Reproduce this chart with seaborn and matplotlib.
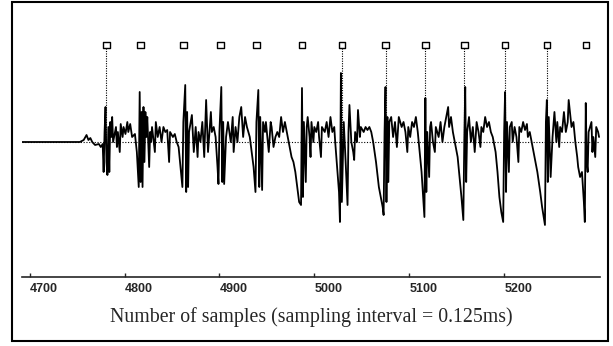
import matplotlib
matplotlib.use("Agg")
import matplotlib.pyplot as plt
from matplotlib.patches import Rectangle
import seaborn as sns
import pandas as pd

# waveform vertices (sample number, amplitude)
sample = [4692, 4753, 4757, 4760, 4762, 4764, 4766, 4769, 4773, 4775, 4777, 4778, 4779, 4780, 4781, 4782,
          4783, 4784, 4785, 4786, 4787, 4788, 4791, 4792, 4793, 4795, 4796, 4798, 4799, 4801, 4803, 4804,
          4806, 4808, 4811, 4813, 4815, 4816, 4817, 4818, 4819, 4820, 4821, 4822, 4823, 4824, 4826, 4827,
          4828, 4829, 4832, 4833, 4835, 4837, 4839, 4841, 4843, 4845, 4847, 4848, 4851, 4853, 4855, 4857,
          4859, 4861, 4862, 4864, 4865, 4866, 4867, 4868, 4871, 4873, 4875, 4877, 4878, 4880, 4882, 4884,
          4886, 4888, 4891, 4892, 4894, 4896, 4898, 4899, 4900, 4902, 4903, 4904, 4905, 4907, 4909, 4912,
          4914, 4915, 4917, 4919, 4921, 4923, 4925, 4927, 4929, 4932, 4934, 4936, 4938, 4939, 4941, 4942,
          4943, 4945, 4946, 4948, 4949, 4952, 4954, 4955, 4957, 4959, 4961, 4963, 4965, 4967, 4969, 4972,
          4974, 4976, 4978, 4980, 4982, 4984, 4986, 4987, 4988, 4989, 4991, 4992, 4993, 4995, 4996, 4997,
          4999, 5000, 5002, 5004, 5005, 5007, 5008, 5011, 5013, 5015, 5017, 5019, 5021, 5022, 5024, 5026,
          5027, 5028, 5029, 5031, 5033, 5035, 5036, 5037, 5039, 5041, 5042, 5043, 5045, 5046, 5048, 5049,
          5052, 5054, 5056, 5058, 5060, 5062, 5065, 5068, 5072, 5073, 5074, 5075, 5076, 5077, 5078, 5079,
          5081, 5083, 5085, 5087, 5089, 5092, 5094, 5096, 5098, 5099, 5101, 5103, 5105, 5107, 5109, 5111,
          5113, 5115, 5116, 5117, 5118, 5119, 5121, 5122, 5123, 5125, 5127, 5128, 5131, 5133, 5135, 5137,
          5139, 5141, 5142, 5144, 5146, 5148, 5151, 5153, 5155, 5157, 5158, 5159, 5160, 5161, 5163, 5165,
          5167, 5169, 5171, 5173, 5175, 5176, 5178, 5180, 5182, 5184, 5186, 5188, 5191, 5193, 5195, 5197,
          5199, 5200, 5201, 5202, 5203, 5205, 5206, 5208, 5209, 5211, 5213, 5215, 5216, 5218, 5220, 5222,
          5224, 5225, 5227, 5229, 5232, 5235, 5238, 5240, 5243, 5244, 5245, 5246, 5247, 5249, 5251, 5253,
          5255, 5256, 5258, 5259, 5261, 5263, 5265, 5267, 5268, 5271, 5273, 5275, 5277, 5278, 5280, 5282,
          5284, 5285, 5286, 5287, 5288, 5289, 5292, 5293, 5294, 5296, 5297, 5299, 5300]
amplitude = [0, 0, 2, 7, 2, 4, 0, -3, -2, -5, -2, -30, 10, 35, -20, -33,
             15, -30, 20, 5, 25, 0, 15, -5, 10, -10, 18, 5, 15, 8, 20, 10,
             18, 5, 8, -10, -45, 50, -40, 30, -45, 35, -20, 30, 5, 25, -25, 10,
             0, 15, -10, 20, 5, 15, 0, 15, 10, 12, -20, 10, 5, 8, 0, -5,
             -25, -45, 20, 57, -50, 30, -45, 10, 27, -10, 15, -15, 10, 0, 20, -15,
             42, -10, 30, 10, 15, 5, -25, -42, 10, 55, -40, 20, -42, 5, 20, 0,
             25, -10, 15, 0, 25, 35, 5, 25, 15, 5, -10, -25, -50, 20, 52, -45,
             25, -48, 20, 10, 20, -10, 20, 15, -5, 5, 10, 5, 25, 10, 20, 5,
             -5, -15, -20, -30, -45, -60, -63, 54, -55, 20, -40, 15, 25, 5, -15, 20,
             0, 15, 10, 20, 5, -15, 15, 10, 20, 5, 25, 10, 15, 0, -25, -50,
             -80, 69, -60, 20, -20, -63, 10, 37, 0, -10, -18, 10, 0, 32, 5, 15,
             10, 15, 12, 15, 10, 0, -20, -45, -65, -73, 10, 55, -60, 25, -40, 20,
             25, 5, 20, -5, 25, 15, 20, 10, -10, 15, 5, 20, 15, 25, 10, -10,
             -30, -60, -75, 44, -50, 10, -35, 15, 20, 0, -10, 15, 5, 20, 0, 15,
             25, 35, 15, 25, 10, 0, -15, -35, -55, -78, 0, 55, -40, 10, 25, 0,
             15, -10, 20, 10, -5, 15, 10, 25, 15, 20, 10, 5, -10, -30, -55, -70,
             -80, 10, 50, -50, 20, -30, 15, 20, 0, 15, 5, -20, 15, 10, 20, 12,
             18, 5, 10, 0, -15, -30, -50, -65, -83, 20, 42, -40, 25, -35, 5, 30,
             0, 20, -5, 15, 10, 30, 10, 20, 42, 15, 20, 0, -15, -25, -35, -30,
             -60, -80, 39, -20, -30, 10, 20, -10, 5, -15, 15, 10, 5]

# pitch marks
mark_sample = [4781, 4817, 4862, 4901, 4939, 4987, 5029, 5075, 5117, 5158, 5201, 5245, 5286]
mark_line = [True, False, False, False, False, False, True, True, True, True, True, True, False]
mark_level = 97

tick_values = [4700, 4800, 4900, 5000, 5100, 5200]

wave = pd.DataFrame({"sample": sample, "amplitude": amplitude})
marks = pd.DataFrame({"sample": mark_sample, "level": [mark_level] * len(mark_sample)})

sns.set_style("white")
plt.rcParams["font.family"] = ["Liberation Sans", "DejaVu Sans"]

fig = plt.figure(figsize=(6.13, 3.46), dpi=100)
ax = fig.add_axes([22 / 613, 1 - 277 / 346, 578 / 613, 269 / 346])

ax.axhline(0, color="black", lw=0.8, ls=(0, (1, 1.5)), zorder=1)
for s, show in zip(mark_sample, mark_line):
    if show:
        ax.vlines(s, 0, mark_level - 3, color="black", lw=0.8, ls=(0, (1, 1.2)), zorder=1)

sns.lineplot(data=wave, x="sample", y="amplitude", estimator=None, sort=False,
             color="black", lw=1.3, ax=ax, zorder=3)
sns.scatterplot(data=marks, x="sample", y="level", marker="s", s=22, facecolor="none",
                edgecolor="black", linewidth=1.0, ax=ax, zorder=4)

ax.set_xlim(4692, 5301)
ax.set_ylim(-135, 134)
ax.set_yticks([])
ax.set_ylabel("")
ax.set_xticks(tick_values)
ax.set_xticklabels([str(v) for v in tick_values], fontweight="bold", fontsize=9, ha="left")
ax.tick_params(axis="x", direction="in", length=3, width=1, pad=4, bottom=True)
for side in ["left", "right", "top"]:
    ax.spines[side].set_visible(False)
ax.spines["bottom"].set_linewidth(1.2)
ax.set_xlabel("Number of samples (sampling interval = 0.125ms)",
              family=["Liberation Serif", "DejaVu Serif"], fontsize=14.3, labelpad=9)

fig.patches.append(Rectangle((12 / 613, 5 / 346), 596 / 613, 339 / 346, transform=fig.transFigure,
                             fill=False, edgecolor="black", lw=1.5))

fig.savefig("out.png", dpi=100)
